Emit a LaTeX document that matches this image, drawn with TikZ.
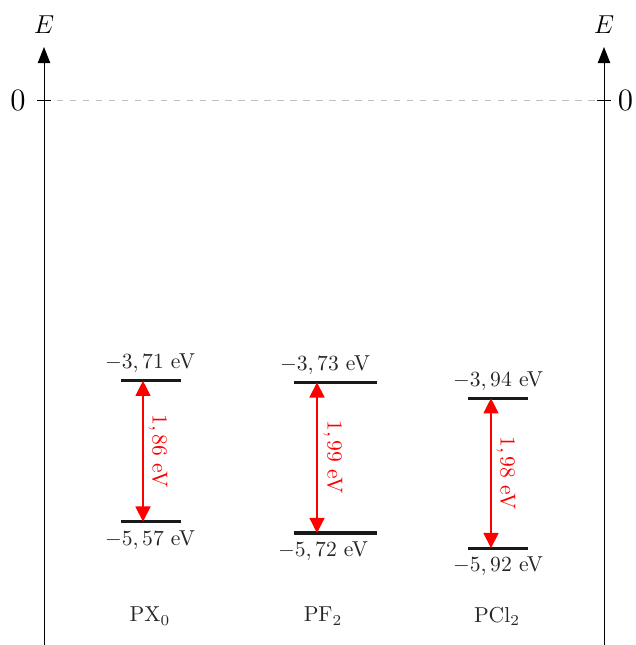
\documentclass[tikz,border=0pt]{standalone}
\usetikzlibrary{arrows.meta}
\begin{document}
\begin{tikzpicture}[x=0.46296pt,y=-0.46296pt,
  axis/.style={line width=0.45pt,-{Triangle[length=7.5pt,width=5.8pt]}},
  tick/.style={line width=0.45pt},
  zeroline/.style={gray!50,dashed,line width=0.45pt},
  lvl/.style={line width=1.45pt,black!90},
  gaparrow/.style={red,line width=0.55pt,{Triangle[length=7pt,width=7pt]}-{Triangle[length=7pt,width=7pt]}},
  axlabel/.style={font=\large,inner sep=0pt},
  zlabel/.style={font=\Large,inner sep=0pt},
  elabel/.style={inner sep=0pt,black!85},
  gaplabel/.style={red,rotate=-90,inner sep=0pt},
  mol/.style={inner sep=0pt,black!85}]
\useasboundingbox (0,0) rectangle (635,645);
% axes
\coordinate (Lb) at (44,645);
\coordinate (Lt) at (44,47);
\coordinate (Rb) at (604,645);
\coordinate (Rt) at (604,47);
\draw[axis] (Lb) -- (Lt);
\draw[axis] (Rb) -- (Rt);
\node[axlabel] (EL) at (44,25) {$E$};
\node[axlabel] (ER) at (604,25) {$E$};
% zero
\coordinate (Lz) at (44,100);
\coordinate (Rz) at (604,100);
\draw[zeroline] (Lz) -- (Rz);
\coordinate (Lz1) at (37,100);
\coordinate (Lz2) at (51,100);
\coordinate (Rz1) at (597,100);
\coordinate (Rz2) at (611,100);
\draw[tick] (Lz1) -- (Lz2);
\draw[tick] (Rz1) -- (Rz2);
\node[zlabel] (ZL) at (18,100) {$0$};
\node[zlabel] (ZR) at (625.5,100) {$0$};
% PX0
\coordinate (a1) at (121,380.8);
\coordinate (a2) at (181,380.8);
\coordinate (b1) at (121,521.6);
\coordinate (b2) at (181,521.6);
\draw[lvl] (a1) -- (a2);
\draw[lvl] (b1) -- (b2);
\coordinate (at) at (143,380.8);
\coordinate (ab) at (143,521.6);
\draw[gaparrow] (at) -- (ab);
\node[elabel] (aT) at (150,363) {$-3,71$ eV};
\node[elabel] (aB) at (150,540) {$-5,57$ eV};
\node[gaplabel] (aG) at (158,451) {$1,86$ eV};
\node[mol] (aM) at (150,616) {PX$_0$};
% PF2
\coordinate (c1) at (294,382.4);
\coordinate (c2) at (377,382.4);
\coordinate (d1) at (294,533);
\coordinate (d2) at (377,533);
\draw[lvl] (c1) -- (c2);
\draw[lvl] (d1) -- (d2);
\coordinate (ct) at (317,382.4);
\coordinate (cb) at (317,533);
\draw[gaparrow] (ct) -- (cb);
\node[elabel] (cT) at (325,365) {$-3,73$ eV};
\node[elabel] (cB) at (323,551) {$-5,72$ eV};
\node[gaplabel] (cG) at (333,457) {$1,99$ eV};
\node[mol] (cM) at (323,616) {PF$_2$};
% PCl2
\coordinate (e1) at (468,398.3);
\coordinate (e2) at (528,398.3);
\coordinate (f1) at (468,548.1);
\coordinate (f2) at (528,548.1);
\draw[lvl] (e1) -- (e2);
\draw[lvl] (f1) -- (f2);
\coordinate (et) at (491,398.3);
\coordinate (eb) at (491,548.1);
\draw[gaparrow] (et) -- (eb);
\node[elabel] (eT) at (498,381) {$-3,94$ eV};
\node[elabel] (eB) at (498,566) {$-5,92$ eV};
\node[gaplabel] (eG) at (506,473) {$1,98$ eV};
\node[mol] (eM) at (497,616) {PCl$_2$};
\end{tikzpicture}
\end{document}
